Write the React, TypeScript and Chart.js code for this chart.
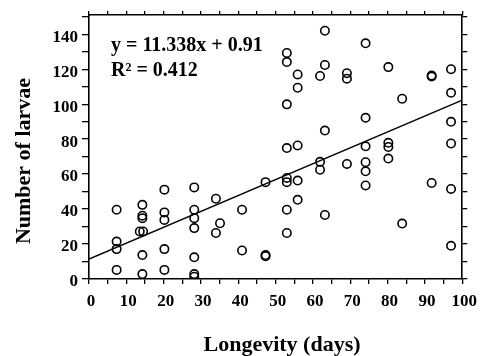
import React, { useEffect, useRef } from "react";
import { Chart, registerables } from "chart.js";

Chart.register(...registerables);

// Longevity (days) and number of larvae
const longevity = [
  7.4, 7.4, 7.4, 7.4,
  14.3, 14.3, 14.3, 13.6, 14.5, 14.3, 14.3,
  20.2, 20.2, 20.2, 20.2, 20.2,
  28.2, 28.2, 28.2, 28.2, 28.2, 28.2, 28.2,
  34, 34, 35.1,
  41, 41,
  47.3, 47.3, 47.3,
  53, 53, 53, 53, 53, 53, 53, 53,
  55.9, 55.9, 55.9, 55.9, 55.9,
  61.9, 61.9, 61.9,
  63.2, 63.2, 63.2, 63.2,
  69.1, 69.1, 69.1,
  74.1, 74.1, 74.1, 74.1, 74.1, 74.1,
  80.2, 80.2, 80.2, 80.2,
  83.9, 83.9,
  91.8, 91.8, 91.8,
  97, 97, 97, 97, 97, 97,
];
const larvae = [
  39.6, 21.4, 17.1, 5.2,
  42.4, 36.2, 34.8, 27.2, 27.2, 13.7, 2.8,
  51.1, 38.1, 33.8, 17.1, 5.2,
  52.4, 39.6, 34.8, 29.1, 12.4, 2.8, 1.3,
  45.9, 26.3, 31.9,
  39.6, 16.3,
  55.4, 13.7, 13.0,
  129.3, 124.1, 99.9, 74.9, 57.8, 55.4, 39.6, 26.3,
  117, 109.4, 76.4, 56.3, 45.3,
  116.1, 67, 62.5,
  142, 122.4, 84.9, 36.6,
  117.7, 114.6, 65.8,
  134.8, 92.2, 75.9, 66.8, 61.6, 53.5,
  121.2, 77.9, 75.5, 68.9,
  103.1, 31.7,
  116.4, 115.8, 54.9,
  120, 106.5, 89.9, 77.5, 51.5, 19,
];

// Regression line end points
const fitX = [0, 100];
const fitY = [11.34, 102.34];

const equationLines = ["y = 11.338x + 0.91", "R² = 0.412"];
const xTitle = "Longevity (days)";
const yTitle = "Number of larvae";

const xMin = 0;
const xMax = 100;
const yMin = 0;
const yMax = 151;

const SERIF = '"Liberation Serif", "Times New Roman", serif';

const textPlugin = {
  id: "textPlugin",
  afterDraw(chart: any) {
    const ctx = chart.ctx as CanvasRenderingContext2D;
    ctx.save();
    ctx.fillStyle = "#000";
    ctx.font = `bold 20px ${SERIF}`;
    ctx.textAlign = "left";
    ctx.textBaseline = "alphabetic";
    ctx.fillText(equationLines[0], 111, 51);
    ctx.fillText(equationLines[1], 111, 76);

    ctx.font = `bold 22px ${SERIF}`;
    ctx.textAlign = "center";
    ctx.fillText(xTitle, 282, 351);

    ctx.translate(30, 161);
    ctx.rotate(-Math.PI / 2);
    ctx.fillText(yTitle, 0, 0);
    ctx.restore();
  },
};

const tickFont = { family: SERIF, size: 17, weight: "bold" as const };

function stepTicks(min: number, max: number, step: number) {
  const out: { value: number }[] = [];
  for (let v = min; v <= max + 1e-9; v += step) out.push({ value: v });
  return out;
}

export default function App() {
  const ref = useRef<HTMLCanvasElement | null>(null);

  useEffect(() => {
    if (!ref.current) return;
    const points = longevity.map((x, i) => ({ x, y: larvae[i] }));
    const line = fitX.map((x, i) => ({ x, y: fitY[i] }));

    const gridCommon = {
      drawOnChartArea: false,
      color: "#000",
      lineWidth: 1.3,
    };
    const border = { display: true, color: "#000", width: 1.6 };

    const chart = new Chart(ref.current, {
      type: "scatter",
      data: {
        datasets: [
          {
            data: points,
            pointStyle: "circle",
            pointRadius: 4.2,
            pointBorderWidth: 1.6,
            pointBorderColor: "#000",
            pointBackgroundColor: "rgba(0,0,0,0)",
            showLine: false,
          },
          {
            data: line,
            showLine: true,
            borderColor: "#000",
            borderWidth: 1.5,
            pointRadius: 0,
            fill: false,
          },
        ],
      },
      options: {
        animation: false,
        responsive: false,
        layout: { padding: 0 },
        plugins: { legend: { display: false }, tooltip: { enabled: false } },
        scales: {
          x: {
            type: "linear",
            position: "bottom",
            min: xMin,
            max: xMax,
            afterBuildTicks: (s: any) => { s.ticks = stepTicks(xMin, xMax, 5); },
            afterFit: (s: any) => { s.height = 77; },
            ticks: {
              font: tickFont,
              color: "#000",
              padding: 7,
              maxRotation: 0,
              autoSkip: false,
              labelOffset: 2,
              callback: (v: any) => (Number(v) % 10 === 0 ? String(v) : ""),
            },
            grid: { ...gridCommon, tickLength: 5 },
            border,
          },
          x2: {
            type: "linear",
            position: "top",
            min: xMin,
            max: xMax,
            afterBuildTicks: (s: any) => { s.ticks = stepTicks(xMin, xMax, 5); },
            afterFit: (s: any) => { s.height = 15; },
            ticks: { display: false },
            grid: { ...gridCommon, tickLength: 4 },
            border,
          },
          y: {
            type: "linear",
            position: "left",
            min: yMin,
            max: yMax,
            afterBuildTicks: (s: any) => { s.ticks = stepTicks(0, 150, 10); },
            afterFit: (s: any) => { s.width = 89; },
            ticks: {
              font: tickFont,
              color: "#000",
              padding: 4,
              autoSkip: false,
              labelOffset: 3,
              callback: (v: any) =>
                Number(v) % 20 === 0 && Number(v) <= 140 ? String(v) : "",
            },
            grid: { ...gridCommon, tickLength: 7 },
            border,
          },
          y2: {
            type: "linear",
            position: "right",
            min: yMin,
            max: yMax,
            afterBuildTicks: (s: any) => { s.ticks = stepTicks(0, 150, 10); },
            afterFit: (s: any) => { s.width = 17; },
            ticks: { display: false },
            grid: { ...gridCommon, tickLength: 5 },
            border,
          },
        },
      },
      plugins: [textPlugin],
    } as any);

    return () => chart.destroy();
  }, []);

  return (
    <div
      style={{
        position: "fixed",
        left: 0,
        top: 0,
        width: 482,
        height: 356,
        background: "#fff",
      }}
    >
      <canvas ref={ref} width={482} height={356} style={{ display: "block" }} />
    </div>
  );
}
